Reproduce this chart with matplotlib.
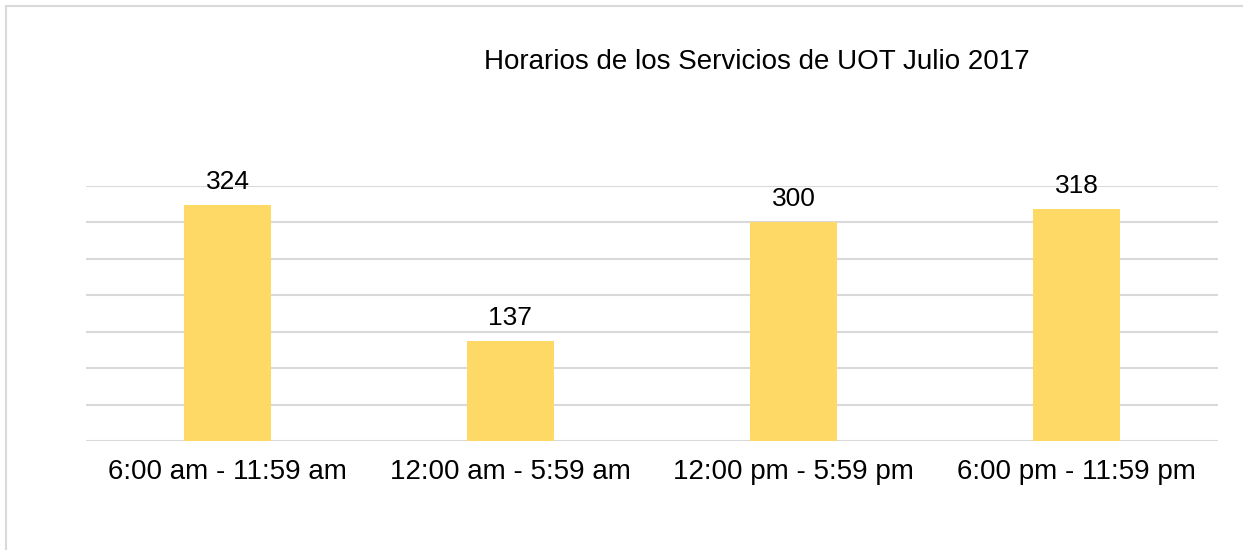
import matplotlib.pyplot as plt
from matplotlib.patches import Rectangle

plt.rcParams['font.family'] = ['Liberation Sans', 'DejaVu Sans']

categories = ['6:00 am - 11:59 am', '12:00 am - 5:59 am', '12:00 pm - 5:59 pm', '6:00 pm - 11:59 pm']
values = [324, 137, 300, 318]
title = 'Horarios de los Servicios de UOT Julio 2017'

fig = plt.figure(figsize=(12.43, 5.5), dpi=100)
ax = fig.add_axes([86 / 1243, 109 / 550, 1132 / 1243, 255 / 550])

# outer chart border (right/bottom edges fall outside the image)
fig.patches.append(Rectangle((6 / 1243, -0.1), 1.2, (544 / 550) + 0.1,
                             transform=fig.transFigure, fill=False,
                             edgecolor='#D9D9D9', linewidth=1.5))

x = range(len(categories))
bars = ax.bar(x, values, width=0.31, color='#FFD966', zorder=3)
for b, v in zip(bars, values):
    ax.annotate(str(v), (b.get_x() + b.get_width() / 2, v), xytext=(0, 8),
                textcoords='offset points', ha='center', va='bottom', fontsize=19)

ax.set_xlim(-0.5, len(categories) - 0.5)
ax.set_ylim(0, 350)
ax.set_yticks(range(0, 351, 50))
ax.yaxis.grid(True, color='#D9D9D9', linewidth=1.5, zorder=0)
ax.tick_params(axis='y', left=False, labelleft=False)
ax.tick_params(axis='x', length=0, labelsize=20, pad=13)
ax.set_xticks(list(x))
ax.set_xticklabels(categories)
for s in ax.spines.values():
    s.set_visible(False)

fig.text(757 / 1243, 1 - 62 / 550, title, ha='center', va='center', fontsize=20)

fig.savefig('out.png', dpi=100)
